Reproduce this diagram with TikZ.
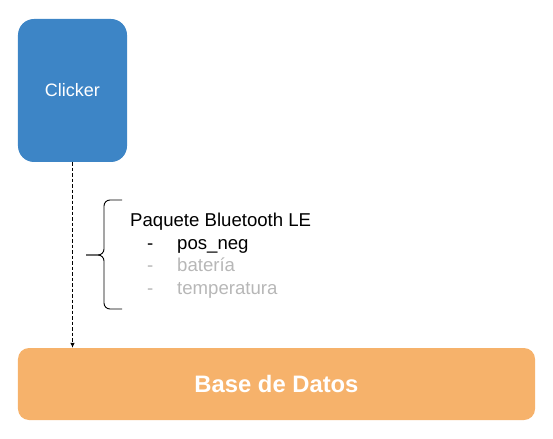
\documentclass[tikz,border=0pt]{standalone}
\usepackage{fontspec}
\setmainfont{Liberation Sans}
\usetikzlibrary{arrows.meta}

\definecolor{clickerblue}{HTML}{3D85C6}
\definecolor{dborange}{HTML}{F6B26B}
\definecolor{lightgrey}{HTML}{B7B7B7}

\begin{document}
\begin{tikzpicture}[x=1bp, y=-1bp,
      bluebox/.style={rectangle, rounded corners=16bp, fill=clickerblue, text=white,
        inner sep=0pt, minimum width=109bp, minimum height=143bp,
        font=\fontsize{18bp}{22bp}\selectfont},
      orangebox/.style={rectangle, rounded corners=11bp, fill=dborange, text=white,
        inner sep=0pt, minimum width=517bp, minimum height=72bp,
        font=\fontsize{23.8bp}{28bp}\selectfont\bfseries},
      listline/.style={anchor=base west, inner sep=0pt,
        font=\fontsize{18.6bp}{22bp}\selectfont}]

    \useasboundingbox (0,0) rectangle (553,439);

    \node[bluebox]   (clicker) at (72.5,90.5) {Clicker};
    \node[orangebox] (db)      at (276.5,384) {Base de Datos};

    \node[listline] (pkt)  at (130,227) {Paquete Bluetooth LE};
    \node[listline] (pos)  at (147,249.5) {\makebox[30bp][l]{-}pos\_neg};
    \node[listline, text=lightgrey] (bat)  at (147,272) {\makebox[30bp][l]{-}batería};
    \node[listline, text=lightgrey] (temp) at (147,294) {\makebox[30bp][l]{-}temperatura};

    % llave
    \draw[line width=0.9bp, rounded corners=6bp] (122,200) -- (104,200) -- (104,255) -- (86,255);
    \draw[line width=0.9bp, rounded corners=6bp] (122,309) -- (104,309) -- (104,255) -- (86,255);

    \draw[line width=0.8bp, dash pattern=on 3.5bp off 2bp, -{Latex[length=5bp,width=4.5bp]}]
      (clicker.south) -- (clicker.south |- db.north);

  \end{tikzpicture}
\end{document}
